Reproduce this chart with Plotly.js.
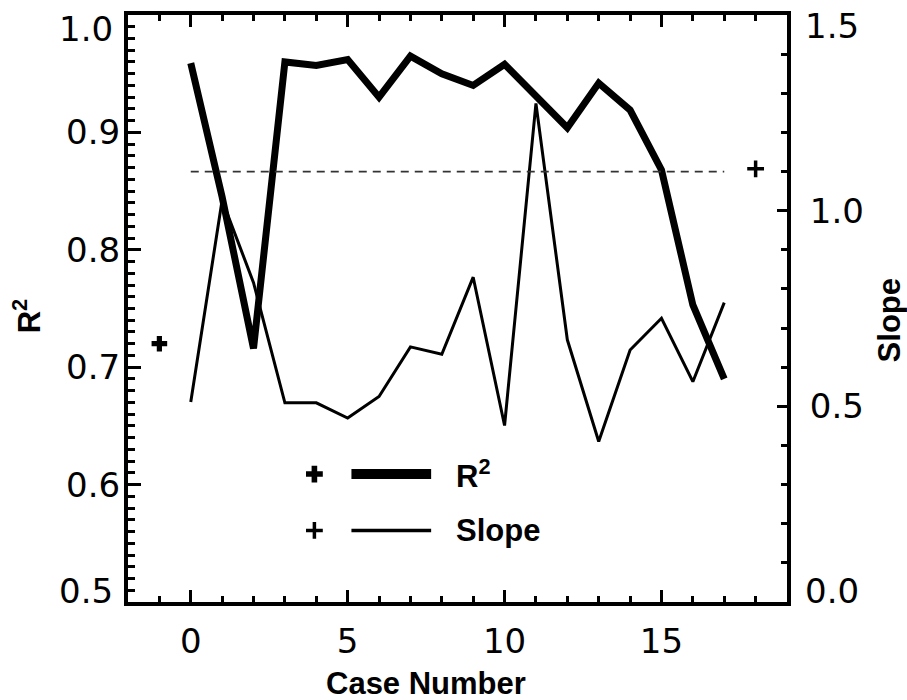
<!DOCTYPE html>
<html>
<head>
<meta charset="utf-8">
<script src="https://cdn.plot.ly/plotly-3.0.1.min.js"></script>
<style>html,body{margin:0;padding:0;background:#fff;}#chart{width:907px;height:700px;}</style>
</head>
<body>
<div id="chart"></div>
<script>
// ---- data ----
const caseNumber = [0,1,2,3,4,5,6,7,8,9,10,11,12,13,14,15,16,17];
const r2Values   = [0.959,0.845,0.716,0.960,0.957,0.962,0.930,0.965,0.950,0.940,0.958,0.930,0.904,0.942,0.919,0.868,0.753,0.690];
const slopeValues= [0.511,1.027,0.816,0.509,0.509,0.470,0.525,0.652,0.633,0.830,0.451,1.274,0.670,0.410,0.644,0.725,0.563,0.765];
const refLineX   = [0, 17];
const refLineSlope = [1.10, 1.10];
const r2MarkX = [-1];   const r2MarkY = [0.720];
const slopeMarkX = [18]; const slopeMarkY = [1.107];
const xTickVals = [0,5,10,15];
// inner tick labels drawn by the axes; the end labels (kept inside the frame in the reference) as annotations
const r2TickVals = [0.6,0.7,0.8,0.9];
const r2EndLabels = ['0.5','1.0'];
const slopeTickVals = [0.5,1.0];
const slopeEndLabels = ['0.0','1.5'];
// legend entries (positions in data units)
const legendSymX = [3.94];
const legendLineX = [5.12, 7.66];
const legendTextX = 8.39;
const legendRowY = [0.609, 0.561];

const tickFont = {family:'DejaVu Sans', size:34, color:'#000'};
const titleFont = {family:'Liberation Sans, Arial, sans-serif', size:31, color:'#000', weight:'bold'};

const traces = [
  {x:caseNumber, y:r2Values, mode:'lines', line:{color:'#000', width:7}, yaxis:'y', showlegend:false, hoverinfo:'skip'},
  {x:caseNumber, y:slopeValues, mode:'lines', line:{color:'#000', width:3}, yaxis:'y2', showlegend:false, hoverinfo:'skip'},
  {x:refLineX, y:refLineSlope, mode:'lines', line:{color:'#333', width:1.8, dash:'8px,6px'}, yaxis:'y2', showlegend:false, hoverinfo:'skip'},
  {x:r2MarkX, y:r2MarkY, mode:'markers', marker:{symbol:'cross', size:13, color:'#000'}, yaxis:'y', showlegend:false},
  {x:slopeMarkX, y:slopeMarkY, mode:'markers', marker:{symbol:'cross-thin', size:12, color:'#000', line:{color:'#000', width:3.5}}, yaxis:'y2', showlegend:false},
  // legend glyphs
  {x:legendSymX, y:[legendRowY[0]], mode:'markers', marker:{symbol:'cross', size:14, color:'#000'}, yaxis:'y', showlegend:false},
  {x:legendSymX, y:[legendRowY[1]], mode:'markers', marker:{symbol:'cross-thin', size:12, color:'#000', line:{color:'#000', width:3.5}}, yaxis:'y', showlegend:false},
  {x:legendLineX, y:[legendRowY[0], legendRowY[0]], mode:'lines', line:{color:'#000', width:10}, yaxis:'y', showlegend:false},
  {x:legendLineX, y:[legendRowY[1], legendRowY[1]], mode:'lines', line:{color:'#000', width:3.5}, yaxis:'y', showlegend:false}
];

const layout = {
  width:907, height:700,
  margin:{l:128, r:120, t:15, b:98},
  paper_bgcolor:'#fff', plot_bgcolor:'#fff',
  showlegend:false,
  xaxis:{
    range:[-2,19], tickvals:xTickVals, ticktext:xTickVals.map(String),
    ticks:'inside', ticklen:12, tickwidth:3, tickcolor:'#000',
    showline:true, linewidth:4, linecolor:'#000', mirror:'ticks',
    showgrid:false, zeroline:false, tickfont:tickFont, ticklabelstandoff:6, ticklabeloverflow:'allow',
    minor:{dtick:1, tick0:0, ticks:'inside', ticklen:6, tickwidth:3, tickcolor:'#000', showgrid:false}
  },
  yaxis:{
    range:[0.5,1.0], tickvals:r2TickVals, ticktext:r2TickVals.map(v=>v.toFixed(1)),
    ticks:'inside', ticklen:13, tickwidth:3, tickcolor:'#000',
    showline:true, linewidth:4, linecolor:'#000',
    showgrid:false, zeroline:false, tickfont:tickFont, ticklabelstandoff:-3, ticklabeloverflow:'allow',
    minor:{dtick:0.01, tick0:0, ticks:'inside', ticklen:7, tickwidth:3, tickcolor:'#000', showgrid:false}
  },
  yaxis2:{
    overlaying:'y', side:'right', anchor:'x',
    range:[0,1.5], tickvals:slopeTickVals, ticktext:slopeTickVals.map(v=>v.toFixed(1)),
    ticks:'inside', ticklen:10, tickwidth:3, tickcolor:'#000',
    showline:true, linewidth:4, linecolor:'#000',
    showgrid:false, zeroline:false, tickfont:tickFont, ticklabelstandoff:12, ticklabeloverflow:'allow',
    minor:{dtick:0.1, tick0:0, ticks:'inside', ticklen:6, tickwidth:3, tickcolor:'#000', showgrid:false}
  },
  annotations:[
    {text:r2EndLabels[1], xref:'paper', yref:'paper', x:-0.019, y:0.977, xanchor:'right', yanchor:'middle', showarrow:false, font:tickFont},
    {text:r2EndLabels[0], xref:'paper', yref:'paper', x:-0.019, y:0.018, xanchor:'right', yanchor:'middle', showarrow:false, font:tickFont},
    {text:slopeEndLabels[1], xref:'paper', yref:'paper', x:1.025, y:0.982, xanchor:'left', yanchor:'middle', showarrow:false, font:tickFont},
    {text:slopeEndLabels[0], xref:'paper', yref:'paper', x:1.025, y:0.019, xanchor:'left', yanchor:'middle', showarrow:false, font:tickFont},
    {text:'Case Number', xref:'x', yref:'paper', x:7.5, y:-0.139, xanchor:'center', yanchor:'middle', showarrow:false, font:titleFont},
    {text:'R<sup>2</sup>', xref:'paper', yref:'paper', x:-0.153, y:0.487, xanchor:'center', yanchor:'middle', textangle:-90, showarrow:false, font:titleFont},
    {text:'Slope', xref:'paper', yref:'paper', x:1.155, y:0.480, xanchor:'center', yanchor:'middle', textangle:-90, showarrow:false, font:titleFont},
    {text:'R<sup>2</sup>', xref:'x', yref:'y', x:legendTextX, y:legendRowY[0], xanchor:'left', yanchor:'middle', showarrow:false, font:titleFont},
    {text:'Slope', xref:'x', yref:'y', x:legendTextX, y:legendRowY[1], xanchor:'left', yanchor:'middle', showarrow:false, font:titleFont}
  ]
};

Plotly.newPlot('chart', traces, layout, {staticPlot:true, displayModeBar:false});
</script>
</body>
</html>
